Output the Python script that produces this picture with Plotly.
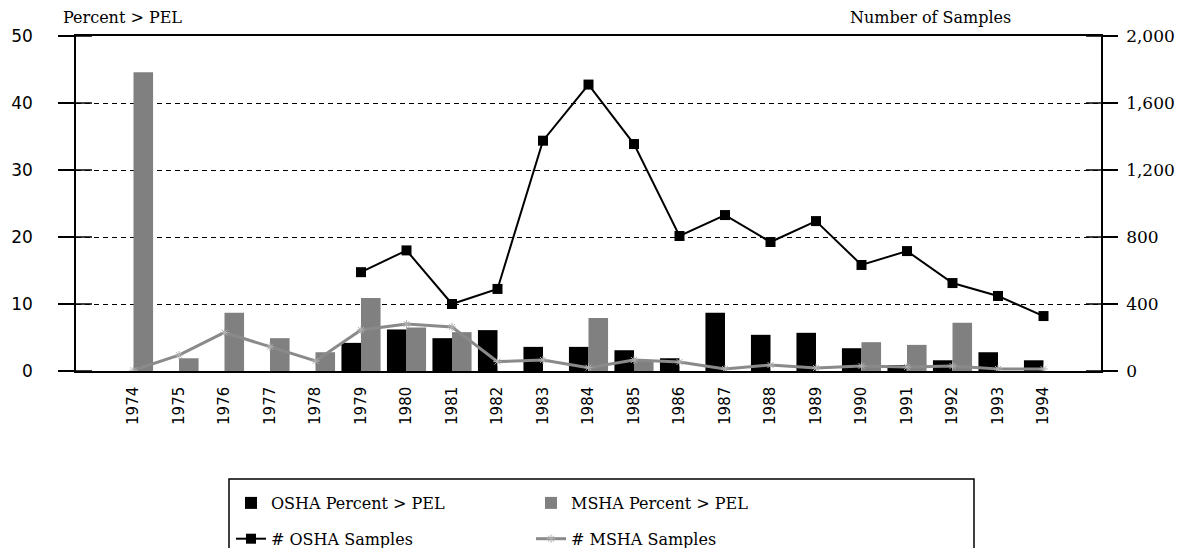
import plotly.graph_objects as go

years = [str(y) for y in range(1974, 1995)]
osha_pct = [0, 0, 0, 0, 0, 4.2, 6.2, 4.9, 6.1, 3.6, 3.6, 3.1, 1.9, 8.7, 5.4, 5.7, 3.4, 0.9, 1.6, 2.8, 1.6]
msha_pct = [44.6, 1.9, 8.7, 4.9, 2.8, 10.9, 6.5, 5.8, 0, 0, 7.9, 1.6, 0, 0, 0, 0, 4.3, 3.9, 7.2, 0, 0]
osha_n = [None, None, None, None, None, 590, 720, 400, 490, 1375, 1710, 1355, 806, 931, 770, 895, 633, 716, 525, 448, 328]
msha_n = [5, 95, 230, 145, 60, 245, 280, 263, 56, 66, 20, 66, 54, 12, 36, 18, 30, 24, 30, 12, 12]

left_ticks = [0, 10, 20, 30, 40, 50]
right_ticks = [0, 400, 800, 1200, 1600, 2000]
right_labels = ["0", "400", "800", "1,200", "1,600", "2,000"]

SERIF = "DejaVu Serif"
SANS = "DejaVu Sans"

fig = go.Figure()
fig.add_trace(go.Bar(x=years, y=osha_pct, name="OSHA Percent > PEL",
                     marker=dict(color="#000000", line=dict(width=0)),
                     legend="legend", legendgroup="a"))
fig.add_trace(go.Bar(x=years, y=msha_pct, name="MSHA Percent > PEL",
                     marker=dict(color="#808080", line=dict(width=0)),
                     legend="legend2", legendgroup="b"))
fig.add_trace(go.Scatter(x=years, y=osha_n, name="# OSHA Samples", yaxis="y2",
                         mode="lines+markers",
                         line=dict(color="#000000", width=2),
                         marker=dict(symbol="square", size=10, color="#000000"),
                         legend="legend", legendgroup="c"))
fig.add_trace(go.Scatter(x=years, y=msha_n, name="# MSHA Samples", yaxis="y2",
                         mode="lines+markers",
                         line=dict(color="#8a8a8a", width=3),
                         marker=dict(symbol="asterisk-open", size=7, color="#b0b0b0",
                                     line=dict(color="#b0b0b0", width=1)),
                         legend="legend2", legendgroup="d"))

shapes = []
for v in left_ticks:
    shapes.append(dict(type="line", xref="paper", yref="y", x0=0, x1=16 / 1025, y0=v, y1=v,
                       line=dict(color="black", width=1.5)))
for v in right_ticks:
    shapes.append(dict(type="line", xref="paper", yref="y2", x0=1 - 15 / 1025, x1=1, y0=v, y1=v,
                       line=dict(color="black", width=1.5)))
shapes.append(dict(type="rect", xref="paper", yref="paper",
                   x0=(229 - 76) / 1025, x1=(974 - 76) / 1025,
                   y0=(371 - 560) / 335, y1=(371 - 479) / 335,
                   line=dict(color="black", width=1.5), fillcolor="rgba(0,0,0,0)"))

fig.update_layout(
    width=1189, height=548,
    margin=dict(l=68, r=96, t=28, b=185, autoexpand=False),
    paper_bgcolor="white", plot_bgcolor="white",
    barmode="group", bargap=0.14, bargroupgap=0,
    font=dict(family=SERIF, size=16, color="black"),
    xaxis=dict(type="category", tickangle=-90, ticks="", showgrid=False, automargin=False,
               showline=True, linecolor="black", linewidth=1.5, mirror=True,
               tickfont=dict(family=SANS, size=15, color="black"),
               ticklabelstandoff=8),
    yaxis=dict(range=[0, 50], tickvals=left_ticks, ticks="outside", ticklen=16, automargin=False,
               tickwidth=1.5, tickcolor="black",
               showline=True, linecolor="black", linewidth=1.5,
               showgrid=True, gridcolor="black", gridwidth=1, griddash="5px,4px",
               zeroline=False, tickfont=dict(family=SANS, size=17, color="black"),
               ticklabelstandoff=22),
    yaxis2=dict(range=[0, 2000], tickvals=right_ticks, ticktext=right_labels, automargin=False,
                overlaying="y", side="right", ticks="outside", ticklen=15,
                tickwidth=1.5, tickcolor="black",
                showline=True, linecolor="black", linewidth=1.5,
                showgrid=False, zeroline=False,
                tickfont=dict(family=SERIF, size=17, color="black"),
                ticklabelstandoff=5),
    legend=dict(x=(231 - 76) / 1025, y=(371 - 486) / 335, xanchor="left", yanchor="top",
                orientation="v", tracegroupgap=12, bgcolor="rgba(0,0,0,0)",
                font=dict(family=SERIF, size=16, color="black")),
    legend2=dict(x=(531 - 76) / 1025, y=(371 - 486) / 335, xanchor="left", yanchor="top",
                 orientation="v", tracegroupgap=12, bgcolor="rgba(0,0,0,0)",
                 font=dict(family=SERIF, size=16, color="black")),
    shapes=shapes,
    annotations=[
        dict(text="Percent > PEL", xref="paper", yref="paper", x=(61 - 76) / 1025, y=(371 - 18) / 335,
             xanchor="left", yanchor="middle", showarrow=False,
             font=dict(family=SERIF, size=16, color="black")),
        dict(text="Number of Samples", xref="paper", yref="paper", x=(1013 - 76) / 1025, y=(371 - 18) / 335,
             xanchor="right", yanchor="middle", showarrow=False,
             font=dict(family=SERIF, size=16, color="black")),
    ],
)

fig.write_html("out.html")
